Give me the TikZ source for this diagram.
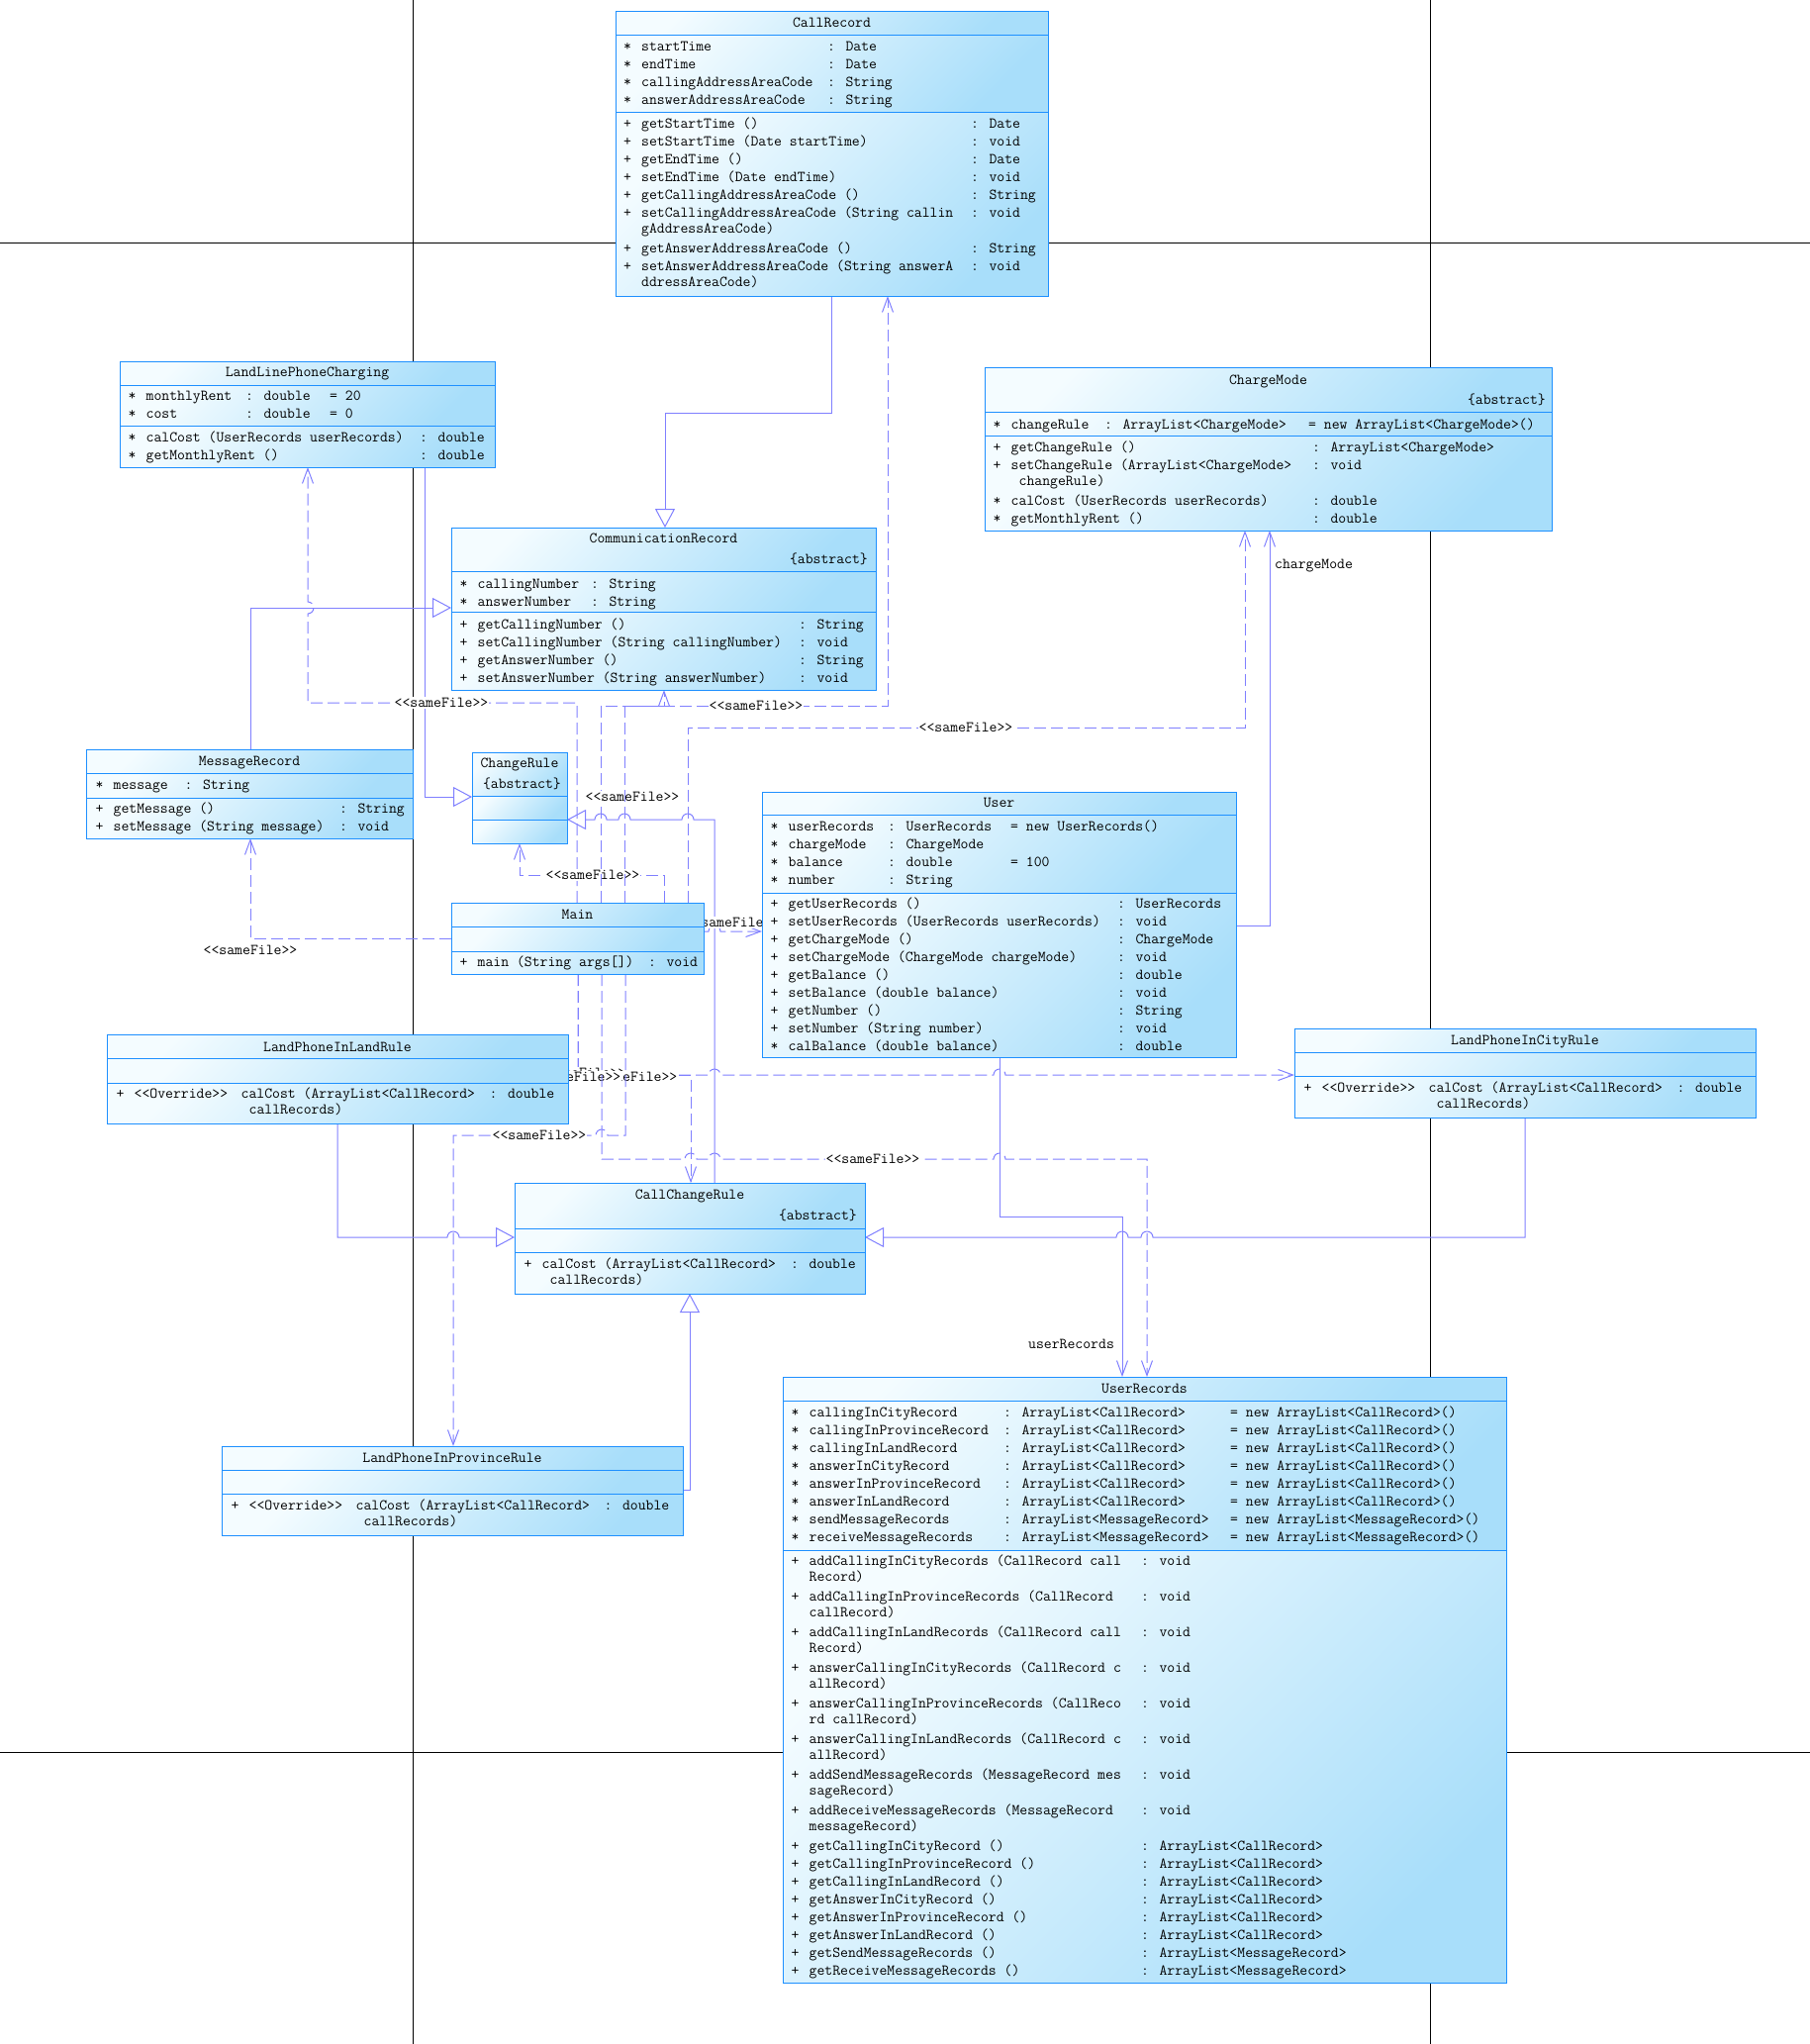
\documentclass[tikz,border=0pt]{standalone}
\usepackage{fontspec}
\usetikzlibrary{arrows.meta}
\definecolor{bordc}{RGB}{30,144,255}
\definecolor{lightc}{RGB}{244,252,255}
\definecolor{darkc}{RGB}{168,222,250}
\definecolor{linec}{RGB}{128,128,255}
\newcommand\uf{\ttfamily\fontsize{15.3}{18}\selectfont}
\newlength\wa \newlength\wb
\newcommand\Lr[3]{\strut\makebox[18pt][l]{#1}\makebox[\wa][l]{#2}#3}
\newcommand\Lq[4]{\strut\makebox[18pt][l]{#1}\makebox[\wa][l]{#2}\makebox[\wb][l]{#3}#4}
\newcommand\Lo[3]{\strut\makebox[18pt][l]{+}\makebox[108pt][l]{<<Override>>}\makebox[\wa][l]{#1}#2}
\newcommand\Lc[2]{\strut\hspace*{#1pt}#2}
\newcommand\cmpt[4]{\path[cmp] (#1,#2) rectangle (#3,#4);}
\begin{document}
\begin{tikzpicture}[x=1pt,y=-1pt,
  cmp/.style={draw=bordc, line width=1pt, left color=lightc, right color=darkc, shading angle=45},
  cls/.style={rectangle, inner sep=0pt, outer sep=0pt, anchor=north west},
  tx/.style={font=\uf, inner sep=0pt, anchor=north west, align=left},
  hd/.style={font=\uf, inner sep=0pt, anchor=base},
  ab/.style={font=\uf, inner sep=0pt, anchor=base east},
  lbl/.style={font=\uf, inner sep=1pt, fill=white, anchor=center},
  rl/.style={font=\uf, inner sep=0pt, anchor=base west},
  conn/.style={draw=linec, line width=1pt},
  gen/.style={conn, -{Triangle[open, length=19pt, width=20pt]}},
  assoc/.style={conn, -{Straight Barb[length=15pt, width=11pt]}},
  dep/.style={conn, dash pattern=on 12pt off 5pt, -{Straight Barb[length=15pt, width=11pt]}},
  guide/.style={draw=black, line width=1pt}]
\useasboundingbox (0,0) rectangle (1829,2065);
\fill[white] (0,0) rectangle (1829,2065);
\draw[guide] (417,0) -- (417,2065);
\draw[guide] (1445,0) -- (1445,2065);
\draw[guide] (0,245) -- (1829,245);
\draw[guide] (0,1770) -- (1829,1770);

% class frames (named)
\node[cls, minimum width=437, minimum height=288] (CR) at (622,11) {};
\node[cls, minimum width=379, minimum height=107] (LLPC) at (121,365) {};
\node[cls, minimum width=573, minimum height=165] (CM) at (995,371) {};
\node[cls, minimum width=429, minimum height=164] (CoR) at (456,533) {};
\node[cls, minimum width=330, minimum height=90] (MR) at (87,757) {};
\node[cls, minimum width=96, minimum height=92] (ChR) at (477,760) {};
\node[cls, minimum width=255, minimum height=72] (Main) at (456,912) {};
\node[cls, minimum width=479, minimum height=268] (U) at (770,800) {};
\node[cls, minimum width=466, minimum height=90] (LPILR) at (108,1045) {};
\node[cls, minimum width=466, minimum height=90] (LPICR) at (1308,1039) {};
\node[cls, minimum width=466, minimum height=90] (LPIPR) at (224,1461) {};
\node[cls, minimum width=354, minimum height=112] (CCR) at (520,1195) {};
\node[cls, minimum width=731, minimum height=612] (UR) at (791,1391) {};

% generalizations
\draw[gen] (840,0 |- CR.south) -- (840,417) -- (672,417) -- (672,0 |- CoR.north);
\draw[gen] (253,0 |- MR.north) -- (253,614) -- (CoR.west |- 0,614);
\draw[gen] (429,0 |- LLPC.south) -- (429,805) -- (ChR.west |- 0,805);
\draw[gen] (722,0 |- CCR.north) -- (722,828) -- (701,828) arc[start angle=0, end angle=-180, radius=6]
  -- (637,828) arc[start angle=0, end angle=-180, radius=6]
  -- (613,828) arc[start angle=0, end angle=-180, radius=6] -- (ChR.east |- 0,828);
\draw[gen] (341,0 |- LPILR.south) -- (341,1250) -- (452,1250) arc[start angle=180, end angle=360, radius=6] -- (CCR.west |- 0,1250);
\draw[gen] (1541,0 |- LPICR.south) -- (1541,1250) -- (1165,1250) arc[start angle=0, end angle=-180, radius=6]
  -- (1140,1250) arc[start angle=0, end angle=-180, radius=6] -- (CCR.east |- 0,1250);
\draw[gen] (LPIPR.east |- 0,1505) -- (697,1505) -- (697,0 |- CCR.south);

% associations
\draw[assoc] (U.east |- 0,935) -- (1283,935) -- (1283,0 |- CM.south);
\node[rl] (lcm) at (1288,574.5) {chargeMode};
\draw[assoc] (1010,0 |- U.south) -- (1010,1229) -- (1134,1229) -- (1134,0 |- UR.north);
\node[rl] (lur) at (1039,1362.5) {userRecords};

% dependencies from Main
\draw[dep] (583,0 |- Main.north) -- (583,710) -- (311,710) -- (311,620) arc[start angle=90, end angle=-90, radius=6] -- (311,0 |- LLPC.south);
\node[lbl] (s1) at (446,710) {<<sameFile>>};
\draw[dep] (Main.west |- 0,948) -- (253,948) -- (253,0 |- MR.south);
\node[lbl] (s2) at (253,960) {<<sameFile>>};
\draw[dep] (671,0 |- Main.north) -- (671,884) -- (525,884) -- (525,0 |- ChR.south);
\node[lbl] (s3) at (599,884) {<<sameFile>>};
\draw[dep] (607,0 |- Main.north) -- (607,713) -- (671,713) -- (671,0 |- CoR.south);
\node[lbl] (s4) at (639,805) {<<sameFile>>};
\draw[dep] (631,0 |- Main.north) -- (631,713) -- (897,713) -- (897,0 |- CR.south);
\node[lbl] (s5) at (764,713) {<<sameFile>>};
\draw[dep] (695,0 |- Main.north) -- (695,735) -- (1258,735) -- (1258,0 |- CM.south);
\node[lbl] (s6) at (976,735) {<<sameFile>>};
\draw[dep] (Main.east |- 0,941) -- (716,941) arc[start angle=180, end angle=360, radius=6] -- (U.west |- 0,941);
\node[lbl] (s7) at (740,932) {<<sameFile>>};
\draw[dep] (584,0 |- Main.south) -- (584,1086) -- (LPILR.east |- 0,1086);
\draw[dep] (584,0 |- Main.south) -- (584,1086) -- (716,1086) arc[start angle=180, end angle=360, radius=6]
  -- (1004,1086) arc[start angle=180, end angle=360, radius=6] -- (LPICR.west |- 0,1086);
\draw[dep] (584,0 |- Main.south) -- (584,1086) -- (698,1086) -- (698,0 |- CCR.north);
\node[lbl] (s12) at (585,1084) {<<sameFile>>};
\node[lbl] (s9) at (637,1088) {<<sameFile>>};
\node[lbl] (s8) at (580,1088) {<<sameFile>>};
\draw[dep] (632,0 |- Main.south) -- (632,1147) -- (614,1147) arc[start angle=0, end angle=-180, radius=6] -- (458,1147) -- (458,0 |- LPIPR.north);
\node[lbl] (s10) at (545,1147) {<<sameFile>>};
\draw[dep] (608,0 |- Main.south) -- (608,1171) -- (692,1171) arc[start angle=180, end angle=360, radius=6]
  -- (716,1171) arc[start angle=180, end angle=360, radius=6]
  -- (1004,1171) arc[start angle=180, end angle=360, radius=6] -- (1159,1171) -- (1159,0 |- UR.north);
\node[lbl] (s11) at (882,1171) {<<sameFile>>};

% ---------- CallRecord
\cmpt{622}{11}{1059}{35}\cmpt{622}{35}{1059}{113}\cmpt{622}{113}{1059}{299}
\node[hd] (CRh) at (840.5,27.5) {CallRecord};
\setlength\wa{188pt}
\node[tx] (CRa) at (630,39) {\Lr{*}{startTime}{: Date}\\ \Lr{*}{endTime}{: Date}\\ \Lr{*}{callingAddressAreaCode}{: String}\\ \Lr{*}{answerAddressAreaCode}{: String}};
\setlength\wa{333pt}
\node[tx] (CRm) at (630,117) {\Lr{+}{getStartTime ()}{: Date}\\ \Lr{+}{setStartTime (Date startTime)}{: void}\\ \Lr{+}{getEndTime ()}{: Date}\\ \Lr{+}{setEndTime (Date endTime)}{: void}\\ \Lr{+}{getCallingAddressAreaCode ()}{: String}\\ \Lr{+}{setCallingAddressAreaCode (String callin}{: void}\\[-2pt] \Lc{18}{gAddressAreaCode)}\\[2pt] \Lr{+}{getAnswerAddressAreaCode ()}{: String}\\ \Lr{+}{setAnswerAddressAreaCode (String answerA}{: void}\\[-2pt] \Lc{18}{ddressAreaCode)}};

% ---------- LandLinePhoneCharging
\cmpt{121}{365}{500}{389}\cmpt{121}{389}{500}{430}\cmpt{121}{430}{500}{472}
\node[hd] (LLPCh) at (310.5,380.5) {LandLinePhoneCharging};
\setlength\wa{100.5pt}\setlength\wb{85pt}
\node[tx] (LLPCa) at (129.5,392) {\Lq{*}{monthlyRent}{: double}{= 20}\\ \Lq{*}{cost}{: double}{= 0}};
\setlength\wa{276.5pt}
\node[tx] (LLPCm) at (129.5,434) {\Lr{*}{calCost (UserRecords userRecords)}{: double}\\ \Lr{*}{getMonthlyRent ()}{: double}};

% ---------- ChargeMode
\cmpt{995}{371}{1568}{416}\cmpt{995}{416}{1568}{440}\cmpt{995}{440}{1568}{536}
\node[hd] (CMh) at (1281.5,388.5) {ChargeMode};
\node[ab] (CMab) at (1562,408.5) {\{abstract\}};
\setlength\wa{94.5pt}\setlength\wb{206pt}
\node[tx] (CMa) at (1003.5,421) {\Lq{*}{changeRule}{: ArrayList<ChargeMode>}{= new ArrayList<ChargeMode>()}};
\setlength\wa{304.5pt}
\node[tx] (CMm) at (1003.5,444) {\Lr{+}{getChangeRule ()}{: ArrayList<ChargeMode>}\\ \Lr{+}{setChangeRule (ArrayList<ChargeMode>}{: void}\\[-2pt] \Lc{26}{changeRule)}\\[2pt] \Lr{*}{calCost (UserRecords userRecords)}{: double}\\ \Lr{*}{getMonthlyRent ()}{: double}};

% ---------- CommunicationRecord
\cmpt{456}{533}{885}{577}\cmpt{456}{577}{885}{618}\cmpt{456}{618}{885}{697}
\node[hd] (CoRh) at (670.5,548.5) {CommunicationRecord};
\node[ab] (CoRab) at (877,569.5) {\{abstract\}};
\setlength\wa{114.5pt}
\node[tx] (CoRa) at (464.5,582) {\Lr{*}{callingNumber}{: String}\\ \Lr{*}{answerNumber}{: String}};
\setlength\wa{324.5pt}
\node[tx] (CoRm) at (464.5,623) {\Lr{+}{getCallingNumber ()}{: String}\\ \Lr{+}{setCallingNumber (String callingNumber)}{: void}\\ \Lr{+}{getAnswerNumber ()}{: String}\\ \Lr{+}{setAnswerNumber (String answerNumber)}{: void}};

% ---------- MessageRecord
\cmpt{87}{757}{417}{781}\cmpt{87}{781}{417}{806}\cmpt{87}{806}{417}{847}
\node[hd] (MRh) at (252,773.5) {MessageRecord};
\setlength\wa{72pt}
\node[tx] (MRa) at (96.5,785) {\Lr{*}{message}{: String}};
\setlength\wa{228.5pt}
\node[tx] (MRm) at (96.5,809) {\Lr{+}{getMessage ()}{: String}\\ \Lr{+}{setMessage (String message)}{: void}};

% ---------- ChangeRule
\cmpt{477}{760}{573}{804}\cmpt{477}{804}{573}{828}\cmpt{477}{828}{573}{852}
\node[hd] (ChRh) at (525,775.5) {ChangeRule};
\node[ab] (ChRab) at (567,796.5) {\{abstract\}};

% ---------- Main
\cmpt{456}{912}{711}{936}\cmpt{456}{936}{711}{961}\cmpt{456}{961}{711}{984}
\node[hd] (Mainh) at (583.5,928.5) {Main};
\setlength\wa{172.5pt}
\node[tx] (Mainm) at (464.5,964) {\Lr{+}{main (String args[])}{: void}};

% ---------- User
\cmpt{770}{800}{1249}{823}\cmpt{770}{823}{1249}{902}\cmpt{770}{902}{1249}{1068}
\node[hd] (Uh) at (1009.5,815.5) {User};
\setlength\wa{100.5pt}\setlength\wb{124pt}
\node[tx] (Ua) at (778.5,827) {\Lq{*}{userRecords}{: UserRecords}{= new UserRecords()}\\ \Lr{*}{chargeMode}{: ChargeMode}\\ \Lq{*}{balance}{: double}{= 100}\\ \Lr{*}{number}{: String}};
\setlength\wa{332.5pt}
\node[tx] (Um) at (778.5,905) {\Lr{+}{getUserRecords ()}{: UserRecords}\\ \Lr{+}{setUserRecords (UserRecords userRecords)}{: void}\\ \Lr{+}{getChargeMode ()}{: ChargeMode}\\ \Lr{+}{setChargeMode (ChargeMode chargeMode)}{: void}\\ \Lr{+}{getBalance ()}{: double}\\ \Lr{+}{setBalance (double balance)}{: void}\\ \Lr{+}{getNumber ()}{: String}\\ \Lr{+}{setNumber (String number)}{: void}\\ \Lr{*}{calBalance (double balance)}{: double}};

% ---------- LandPhoneInLandRule
\cmpt{108}{1045}{574}{1069}\cmpt{108}{1069}{574}{1094}\cmpt{108}{1094}{574}{1135}
\node[hd] (LPILRh) at (341,1062.5) {LandPhoneInLandRule};
\setlength\wa{251pt}
\node[tx] (LPILRm) at (117.5,1097) {\Lo{calCost (ArrayList<CallRecord>}{: double}{}\\[-2pt] \Lc{134}{callRecords)}};

% ---------- LandPhoneInCityRule
\cmpt{1308}{1039}{1774}{1063}\cmpt{1308}{1063}{1774}{1087}\cmpt{1308}{1087}{1774}{1129}
\node[hd] (LPICRh) at (1541,1055.5) {LandPhoneInCityRule};
\node[tx] (LPICRm) at (1317.5,1091) {\Lo{calCost (ArrayList<CallRecord>}{: double}{}\\[-2pt] \Lc{134}{callRecords)}};

% ---------- LandPhoneInProvinceRule
\cmpt{224}{1461}{690}{1485}\cmpt{224}{1485}{690}{1509}\cmpt{224}{1509}{690}{1551}
\node[hd] (LPIPRh) at (457,1477.5) {LandPhoneInProvinceRule};
\node[tx] (LPIPRm) at (233.5,1513) {\Lo{calCost (ArrayList<CallRecord>}{: double}{}\\[-2pt] \Lc{134}{callRecords)}};

% ---------- CallChangeRule
\cmpt{520}{1195}{874}{1241}\cmpt{520}{1241}{874}{1265}\cmpt{520}{1265}{874}{1307}
\node[hd] (CCRh) at (697,1211.5) {CallChangeRule};
\node[ab] (CCRab) at (866,1232.5) {\{abstract\}};
\setlength\wa{251.5pt}
\node[tx] (CCRm) at (529.5,1269) {\Lr{+}{calCost (ArrayList<CallRecord>}{: double}\\[-2pt] \Lc{26}{callRecords)}};

% ---------- UserRecords
\cmpt{791}{1391}{1522}{1415}\cmpt{791}{1415}{1522}{1566}\cmpt{791}{1566}{1522}{2003}
\node[hd] (URh) at (1156.5,1407.5) {UserRecords};
\setlength\wa{196.5pt}\setlength\wb{229pt}
\node[tx] (URa) at (799.5,1419) {\Lq{*}{callingInCityRecord}{: ArrayList<CallRecord>}{= new ArrayList<CallRecord>()}\\ \Lq{*}{callingInProvinceRecord}{: ArrayList<CallRecord>}{= new ArrayList<CallRecord>()}\\ \Lq{*}{callingInLandRecord}{: ArrayList<CallRecord>}{= new ArrayList<CallRecord>()}\\ \Lq{*}{answerInCityRecord}{: ArrayList<CallRecord>}{= new ArrayList<CallRecord>()}\\ \Lq{*}{answerInProvinceRecord}{: ArrayList<CallRecord>}{= new ArrayList<CallRecord>()}\\ \Lq{*}{answerInLandRecord}{: ArrayList<CallRecord>}{= new ArrayList<CallRecord>()}\\ \Lq{*}{sendMessageRecords}{: ArrayList<MessageRecord>}{= new ArrayList<MessageRecord>()}\\ \Lq{*}{receiveMessageRecords}{: ArrayList<MessageRecord>}{= new ArrayList<MessageRecord>()}};
\setlength\wa{335.5pt}
\node[tx] (URm) at (799.5,1569) {\Lr{+}{addCallingInCityRecords (CallRecord call}{: void}\\[-2pt] \Lc{18}{Record)}\\[2pt] \Lr{+}{addCallingInProvinceRecords (CallRecord}{: void}\\[-2pt] \Lc{18}{callRecord)}\\[2pt] \Lr{+}{addCallingInLandRecords (CallRecord call}{: void}\\[-2pt] \Lc{18}{Record)}\\[2pt] \Lr{+}{answerCallingInCityRecords (CallRecord c}{: void}\\[-2pt] \Lc{18}{allRecord)}\\[2pt] \Lr{+}{answerCallingInProvinceRecords (CallReco}{: void}\\[-2pt] \Lc{18}{rd callRecord)}\\[2pt] \Lr{+}{answerCallingInLandRecords (CallRecord c}{: void}\\[-2pt] \Lc{18}{allRecord)}\\[2pt] \Lr{+}{addSendMessageRecords (MessageRecord mes}{: void}\\[-2pt] \Lc{18}{sageRecord)}\\[2pt] \Lr{+}{addReceiveMessageRecords (MessageRecord}{: void}\\[-2pt] \Lc{18}{messageRecord)}\\[2pt] \Lr{+}{getCallingInCityRecord ()}{: ArrayList<CallRecord>}\\ \Lr{+}{getCallingInProvinceRecord ()}{: ArrayList<CallRecord>}\\ \Lr{+}{getCallingInLandRecord ()}{: ArrayList<CallRecord>}\\ \Lr{+}{getAnswerInCityRecord ()}{: ArrayList<CallRecord>}\\ \Lr{+}{getAnswerInProvinceRecord ()}{: ArrayList<CallRecord>}\\ \Lr{+}{getAnswerInLandRecord ()}{: ArrayList<CallRecord>}\\ \Lr{+}{getSendMessageRecords ()}{: ArrayList<MessageRecord>}\\ \Lr{+}{getReceiveMessageRecords ()}{: ArrayList<MessageRecord>}};
\end{tikzpicture}
\end{document}
